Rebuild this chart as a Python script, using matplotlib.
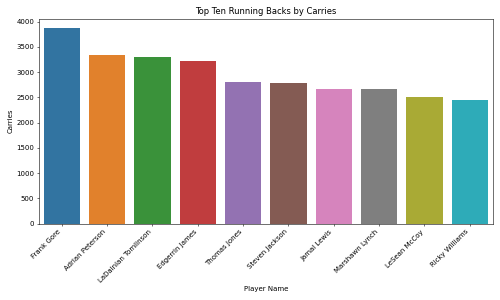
import matplotlib
matplotlib.use("Agg")
import matplotlib.pyplot as plt
import seaborn as sns

players = ["Frank Gore", "Adrian Peterson", "LaDainian Tomlinson", "Edgerrin James",
           "Thomas Jones", "Steven Jackson", "Jamal Lewis", "Marshawn Lynch",
           "LeSean McCoy", "Ricky Williams"]
carries = [3866, 3346, 3300, 3226, 2800, 2786, 2666, 2666, 2506, 2446]

fig, ax = plt.subplots(figsize=(10, 6), dpi=50)
sns.barplot(x=players, y=carries, hue=players, palette="tab10", saturation=0.75,
            legend=False, ax=ax)
ax.set_title("Top Ten Running Backs by Carries")
ax.set_xlabel("Player Name")
ax.set_ylabel("Carries")
plt.xticks(rotation=45, ha="right")
plt.tight_layout()
plt.savefig("out.png", dpi=50)
